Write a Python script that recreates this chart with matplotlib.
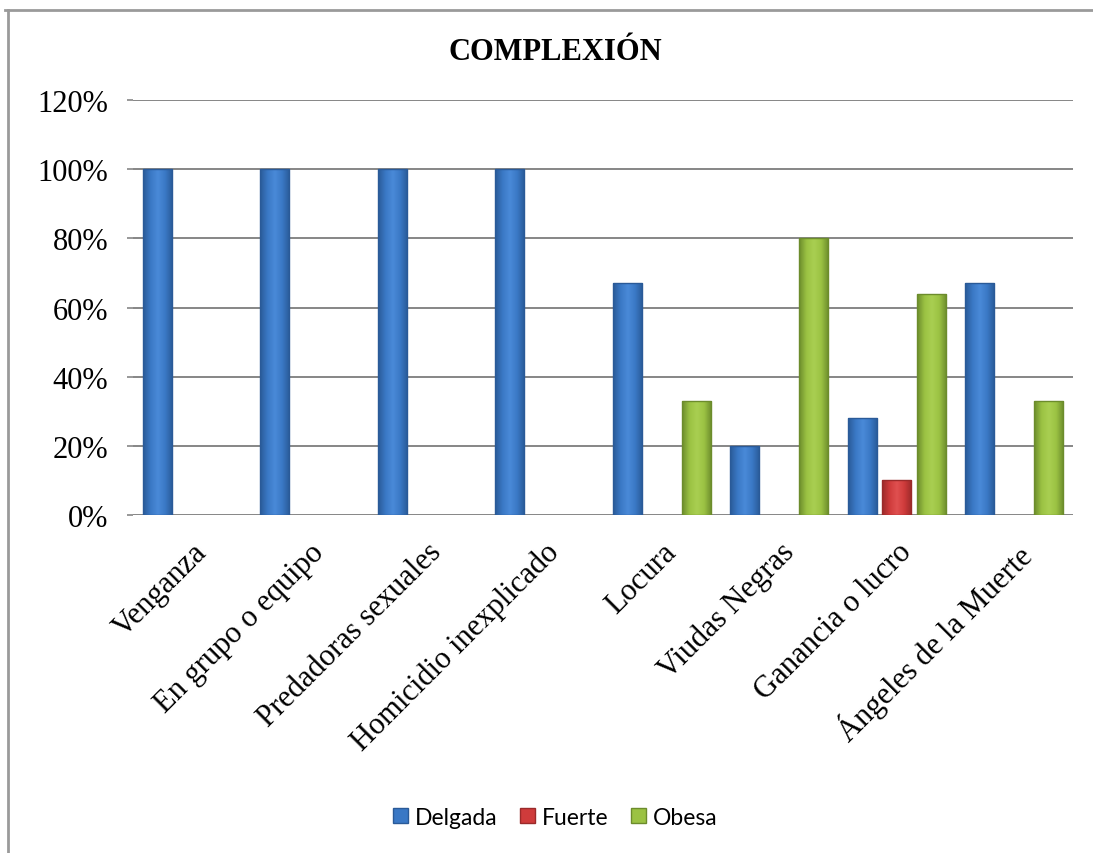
#!/usr/bin/env python3
"""Bar chart of body build (complexion) per murder motive category."""
import matplotlib

matplotlib.use("Agg")
import matplotlib.pyplot as plt
from matplotlib.colors import LinearSegmentedColormap
from matplotlib.lines import Line2D
from matplotlib.patches import Patch
from matplotlib.ticker import FuncFormatter, MultipleLocator
import numpy as np


CATEGORIES = [
    "Venganza",
    "En grupo o equipo",
    "Predadoras sexuales",
    "Homicidio inexplicado",
    "Locura",
    "Viudas Negras",
    "Ganancia o lucro",
    "Ángeles de la Muerte",
]

DELGADA = [100, 100, 100, 100, 67, 20, 28, 67]
FUERTE = [0, 0, 0, 0, 0, 0, 10, 0]
OBESA = [0, 0, 0, 0, 33, 80, 64, 33]

# name, values, dark edge, mid, light centre
SERIES = [
    ("Delgada", DELGADA, "#2A5A98", "#3A78C5", "#4A8AD8"),
    ("Fuerte", FUERTE, "#9A2A2A", "#CF3B3B", "#E05050"),
    ("Obesa", OBESA, "#6C8C2C", "#9BC243", "#A9CF52"),
]

TITLE = "COMPLEXIÓN"
SERIF = ["Liberation Serif", "DejaVu Serif"]


def _shade_bars(ax, bars, dark, mid, light):
    """Fill bars with a horizontal dark-light-dark gradient (bevel look)."""
    cmap = LinearSegmentedColormap.from_list("bevel", [dark, mid, light, mid, dark])
    grad = np.linspace(0, 1, 64).reshape(1, -1)
    for bar in bars:
        h = bar.get_height()
        if not np.isfinite(h) or h <= 0:
            continue
        x0 = bar.get_x()
        w = bar.get_width()
        im = ax.imshow(
            grad,
            cmap=cmap,
            aspect="auto",
            extent=(x0, x0 + w, 0, h),
            zorder=3,
            interpolation="bicubic",
        )
        im.set_clip_path(bar)
        bar.set_facecolor("none")
        bar.set_zorder(4)


def main():
    fig = plt.figure(figsize=(10.93, 8.54), dpi=100)
    ax = fig.add_axes([0.1217, 0.3958, 0.86, 0.4859])

    x = np.arange(len(CATEGORIES))
    width = 0.247
    offset = 0.295
    for i, (name, values, dark, mid, light) in enumerate(SERIES):
        heights = np.where(np.asarray(values, float) > 0, values, np.nan)
        bars = ax.bar(
            x + (i - 1) * offset,
            heights,
            width=width,
            color=mid,
            edgecolor=dark,
            linewidth=1.0,
            label=name,
            zorder=3,
        )
        _shade_bars(ax, bars, dark, mid, light)

    ax.set_xlim(-0.5, len(CATEGORIES) - 0.5)
    ax.set_ylim(0, 120)
    ax.yaxis.set_major_locator(MultipleLocator(20))
    ax.yaxis.set_major_formatter(FuncFormatter(lambda v, _: f"{v:.0f}%"))
    ax.grid(axis="y", color="#868686", linewidth=1.4, zorder=0)
    for side in ("left", "right", "top", "bottom"):
        ax.spines[side].set_visible(False)

    ax.tick_params(axis="y", length=4, color="#868686", width=1.2, pad=14)
    ax.tick_params(axis="x", length=0, pad=16)
    for lbl in ax.get_yticklabels():
        lbl.set_family(SERIF)
        lbl.set_fontsize(22)

    ax.set_xticks(x)
    ax.set_xticklabels(
        CATEGORIES,
        rotation=45,
        ha="right",
        va="top",
        rotation_mode="anchor",
        family=SERIF,
        fontsize=22,
    )

    fig.text(
        0.508, 0.939, TITLE,
        ha="center", va="center",
        family=SERIF, fontsize=22, fontweight="bold",
    )

    handles = [
        Patch(facecolor=mid, edgecolor=dark, label=name)
        for name, _, dark, mid, _ in SERIES
    ]
    fig.legend(
        handles=handles,
        loc="center",
        bbox_to_anchor=(0.508, 0.042),
        ncol=3,
        frameon=False,
        prop={"family": "Lato", "size": 16.5},
        handlelength=0.65,
        handleheight=0.65,
        handletextpad=0.3,
        columnspacing=1.0,
    )

    # chart-area border (only top and left edges are visible in the source)
    fig.add_artist(Line2D([0.005, 1.0], [0.987, 0.987], color="#9a9a9a",
                          linewidth=2, transform=fig.transFigure))
    fig.add_artist(Line2D([0.007, 0.007], [0.0, 0.987], color="#9a9a9a",
                          linewidth=2, transform=fig.transFigure))

    fig.savefig("out.png", dpi=100)
    plt.close(fig)


if __name__ == "__main__":
    main()
